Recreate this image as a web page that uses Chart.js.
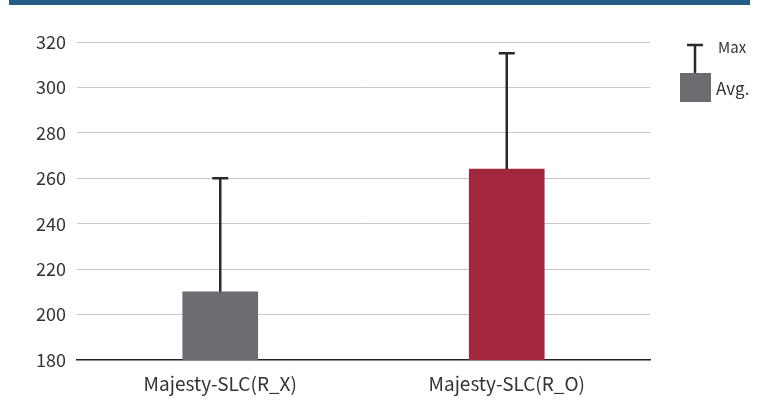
<!DOCTYPE html>
<html>
<head>
<meta charset="utf-8">
<script src="https://cdn.jsdelivr.net/npm/chart.js@4"></script>
<style>
  html, body { margin: 0; padding: 0; background: #fff; }
  #wrap { width: 782px; height: 401px; }
</style>
</head>
<body>
<div id="wrap"><canvas id="chart"></canvas></div>
<script>
// chart data
const categories = ['Majesty-SLC(R_X)', 'Majesty-SLC(R_O)'];
const avgValues = [210, 264];
const maxValues = [260, 315];
const barColors = ['#6b6c70', '#a3283f'];
const yTicks = [180, 200, 220, 240, 260, 280, 300, 320];

const FONT = '"Noto Sans CJK KR", "Noto Sans", sans-serif';

// blue strip on top + legend on the right
const decorPlugin = {
    id: 'decor',
    beforeDraw(chart) {
        const ctx = chart.ctx;
        ctx.save();
        ctx.fillStyle = '#245a86';
        ctx.fillRect(9, 0, 741, 5);
        ctx.restore();
    },
    afterDraw(chart) {
        const ctx = chart.ctx;
        ctx.save();
        // Max symbol
        ctx.strokeStyle = '#2a2a2a';
        ctx.lineWidth = 2.5;
        ctx.beginPath();
        ctx.moveTo(695, 45);
        ctx.lineTo(695, 73);
        ctx.moveTo(687, 45);
        ctx.lineTo(703, 45);
        ctx.stroke();
        // Avg box
        ctx.fillStyle = '#6b6c70';
        ctx.fillRect(680, 73, 31, 29);
        ctx.fillStyle = '#333';
        ctx.textBaseline = 'middle';
        ctx.font = '15px ' + FONT;
        ctx.fillText('Max', 718, 47);
        ctx.font = '17px ' + FONT;
        ctx.fillText('Avg.', 716, 89);
        ctx.restore();
    }
};

// error bars from avg up to max
const errorBarPlugin = {
    id: 'errorBars',
    afterDatasetsDraw(chart) {
        const ctx = chart.ctx;
        const yScale = chart.scales.y;
        const meta = chart.getDatasetMeta(0);
        ctx.save();
        ctx.strokeStyle = '#2a2a2a';
        ctx.lineWidth = 2.5;
        meta.data.forEach((bar, i) => {
            const top = yScale.getPixelForValue(maxValues[i]);
            ctx.beginPath();
            ctx.moveTo(bar.x, bar.y);
            ctx.lineTo(bar.x, top);
            ctx.moveTo(bar.x - 8, top);
            ctx.lineTo(bar.x + 8, top);
            ctx.stroke();
        });
        ctx.restore();
    }
};

new Chart(document.getElementById('chart'), {
    type: 'bar',
    data: {
        labels: categories,
        datasets: [{
            label: 'Avg.',
            data: avgValues,
            backgroundColor: barColors,
            barThickness: 75
        }]
    },
    options: {
        responsive: true,
        maintainAspectRatio: false,
        animation: false,
        layout: { padding: { top: 42, right: 132, left: 0, bottom: 0 } },
        plugins: {
            legend: { display: false },
            tooltip: { enabled: false }
        },
        scales: {
            x: {
                grid: { display: false, drawTicks: false },
                border: { display: true, color: '#222', width: 1.5 },
                ticks: {
                    color: '#333',
                    font: { family: FONT, size: 19 },
                    padding: 12
                },
                afterFit(scale) { scale.height = 41; }
            },
            y: {
                min: 180,
                max: 320,
                afterBuildTicks(scale) {
                    scale.ticks = yTicks.map(v => ({ value: v }));
                },
                grid: {
                    drawTicks: false,
                    color: ctx => ctx.tick && ctx.tick.value === 180 ? 'rgba(0,0,0,0)' : '#c8c8c8',
                    lineWidth: 1
                },
                border: { display: false },
                ticks: {
                    color: '#333',
                    font: { family: FONT, size: 18 },
                    padding: 11
                },
                afterFit(scale) { scale.width = 77; }
            }
        }
    },
    plugins: [decorPlugin, errorBarPlugin]
});
</script>
</body>
</html>
